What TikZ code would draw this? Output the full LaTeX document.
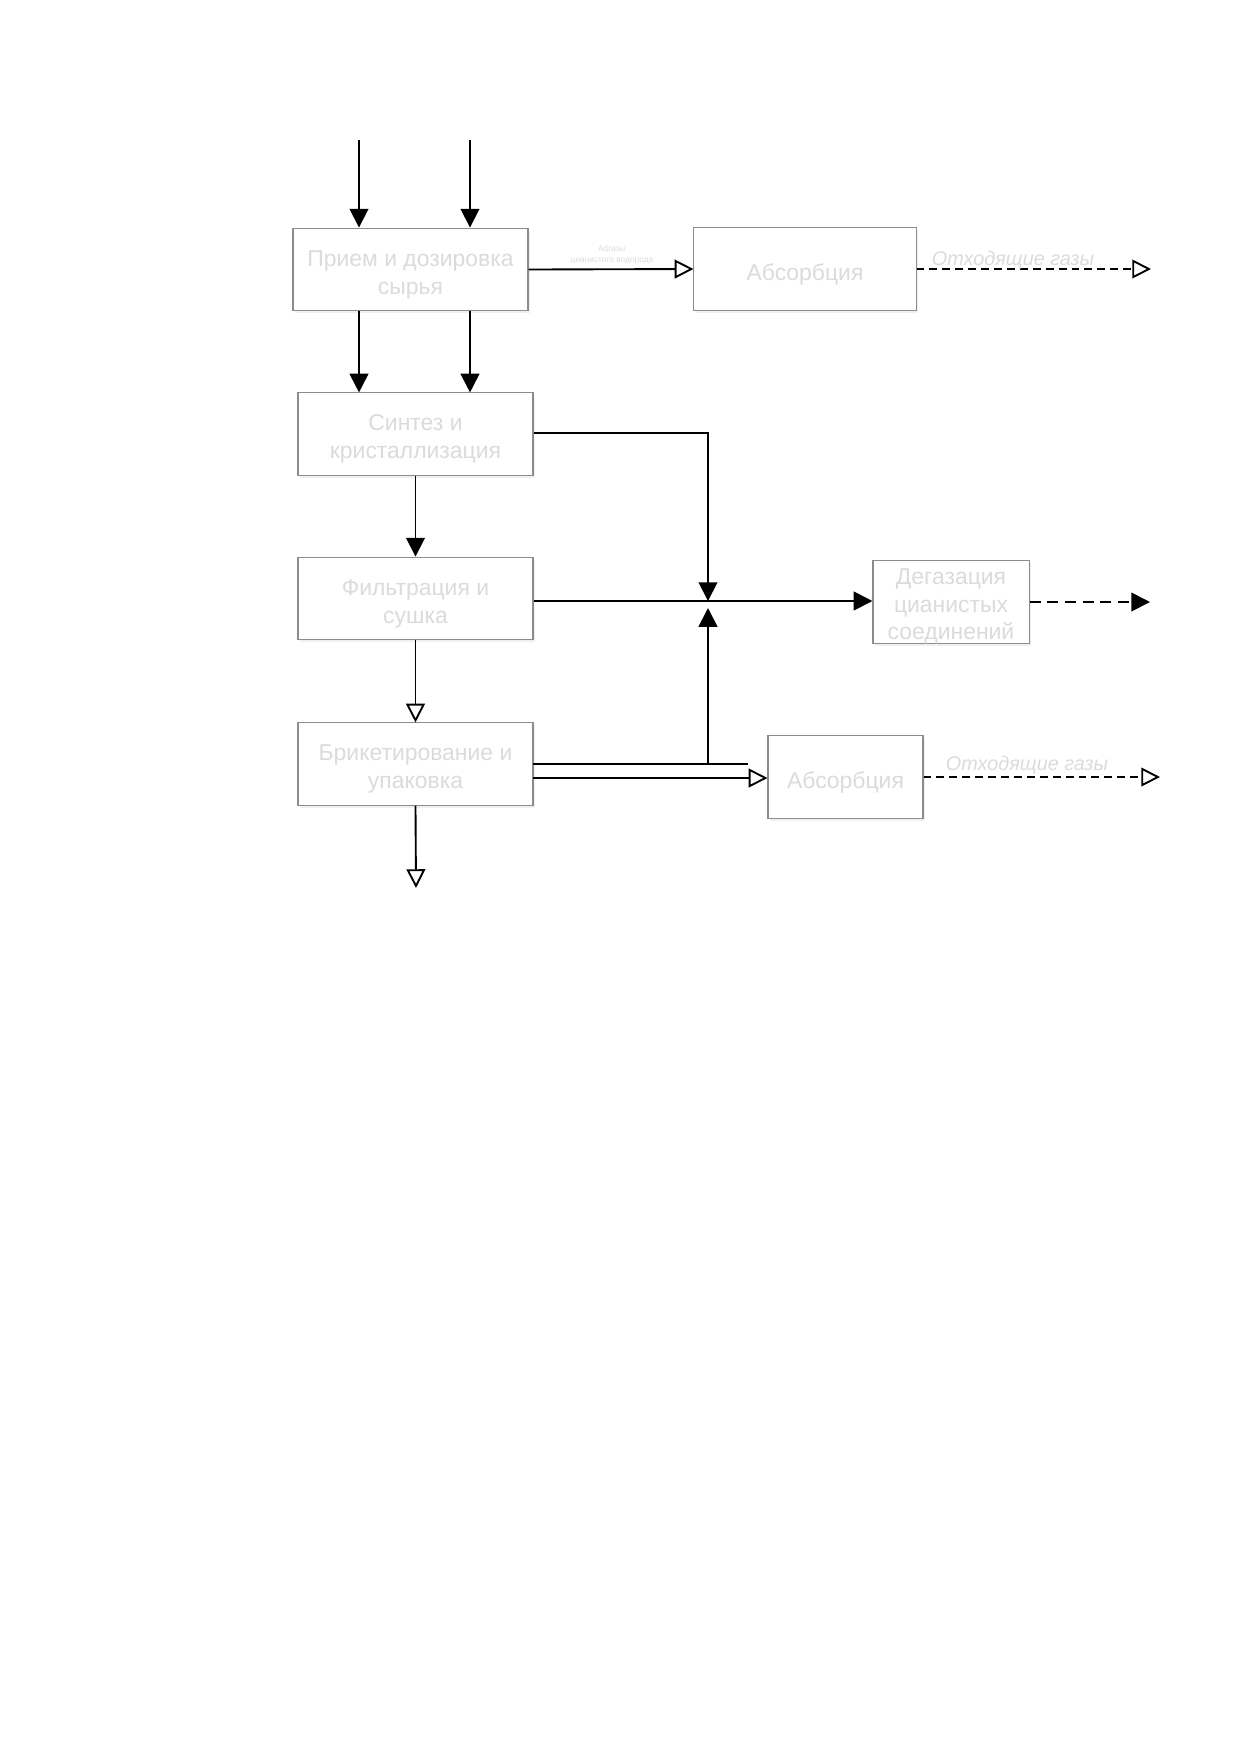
\documentclass[tikz,border=0pt]{standalone}
\usepackage{fontspec}
\setmainfont{Liberation Sans}
\usetikzlibrary{arrows.meta,shadows}
\definecolor{txtgray}{gray}{0.86}
\definecolor{boxgray}{gray}{0.55}
\tikzset{
  procbox/.style={draw=boxgray, line width=0.5pt, fill=white, inner sep=1pt,
    drop shadow={opacity=0.12, shadow xshift=1pt, shadow yshift=-1.2pt}},
  boxtext/.style={align=center, text=txtgray, font=\fontsize{11}{13.5}\selectfont, inner sep=0pt},
  flow/.style={line width=0.9pt, draw=black},
  fillhead/.style={-{Triangle[width=9pt,length=9pt]}},
  openhead/.style={-{Triangle[open,width=9pt,length=9pt,fill=white]}},
  dashA/.style={dash pattern=on 3.8pt off 2.4pt},
  dashB/.style={dash pattern=on 5.3pt off 3.2pt},
  lbl/.style={text=txtgray, font=\itshape\fontsize{9.5}{11}\selectfont},
}
\begin{document}
\begin{tikzpicture}[x=0.48pt, y=-0.48pt]
\useasboundingbox (0,0) rectangle (1241,1754);
% boxes
\node[procbox, minimum width=112.8pt, minimum height=39.8pt] (b1) at (410.5,269.5) {};
\node[procbox, minimum width=106.6pt, minimum height=39.4pt] (abs1) at (805,269) {};
\node[procbox, minimum width=112.8pt, minimum height=39.4pt] (b2) at (415.5,434) {};
\node[procbox, minimum width=112.8pt, minimum height=39.8pt] (b3) at (415.5,598.5) {};
\node[procbox, minimum width=112.8pt, minimum height=39.4pt] (b4) at (415.5,764) {};
\node[procbox, minimum width=74.9pt, minimum height=39.4pt] (deg) at (951,602) {};
\node[procbox, minimum width=74.4pt, minimum height=39.4pt] (abs2) at (845.5,777) {};
% box texts
\node[boxtext] (t1) at ([yshift=-2.5pt]b1.center) {Прием и дозировка\\сырья};
\node[boxtext] (t2) at ([yshift=-2.5pt]abs1.center) {Абсорбция};
\node[boxtext] (t3) at ([yshift=-2.5pt]b2.center) {Синтез и\\кристаллизация};
\node[boxtext] (t4) at ([yshift=-2.5pt]b3.center) {Фильтрация и\\сушка};
\node[boxtext] (t5) at ([yshift=-2.5pt]b4.center) {Брикетирование и\\упаковка};
\node[boxtext, font=\fontsize{11}{13.2}\selectfont] (t6) at ([yshift=-2.2pt]deg.center) {Дегазация\\цианистых\\соединений};
\node[boxtext] (t7) at ([yshift=-2.5pt]abs2.center) {Абсорбция};
% free end points
\coordinate (in1) at (359,140);
\coordinate (in2) at (470,140);
\coordinate (out1) at (1151,269);
\coordinate (out2) at (1150,602);
\coordinate (out3) at (1160,777);
\coordinate (out4) at (416,888);
\coordinate (j) at (708,601);
\coordinate (b4u) at (533,764);
\coordinate (b4ue) at (748,764);
\coordinate (b4l) at (533,778);
\coordinate (jb) at (708,764);
\coordinate (jt) at (708,608);
% inputs
\draw[flow, fillhead] (in1) -- (in1 |- b1.north);
\draw[flow, fillhead] (in2) -- (in2 |- b1.north);
% b1 -> b2
\draw[flow, fillhead] (in1 |- b1.south) -- (in1 |- b2.north);
\draw[flow, fillhead] (in2 |- b1.south) -- (in2 |- b2.north);
% b1 -> abs1
\draw[flow, openhead] (b1.east) -- (abs1.west);
\node[text=txtgray, font=\fontsize{4}{5}\selectfont, align=center] (lab0) at (612,255) {Абгазы\\цианистого водорода};
% abs1 -> out
\draw[flow, dashA, openhead] (abs1.east) -- (out1);
\node[lbl] (lab1) at (1013,260) {Отходящие газы};
% b2 -> junction
\draw[flow, fillhead] (b2.east |- 0,433) -| (j);
% b2 -> b3
\draw[flow, fillhead] (b2.south) -- (b3.north);
% b3 -> degas
\draw[flow, fillhead] (b3.east |- j) -- (deg.west |- j);
\draw[flow, dashB, fillhead] (deg.east |- out2) -- (out2);
% b3 -> b4
\draw[flow, openhead] (b3.south) -- (b4.north);
% b4 outputs
\draw[flow] (b4u) -- (b4ue);
\draw[flow, fillhead] (jb) -- (jt);
\draw[flow, openhead] (b4l) -- (abs2.west |- b4l);
\draw[flow, dashA, openhead] (abs2.east) -- (out3);
\node[lbl] (lab2) at (1027,765) {Отходящие газы};
\draw[flow, openhead] (b4.south) -- (out4);
\end{tikzpicture}
\end{document}
